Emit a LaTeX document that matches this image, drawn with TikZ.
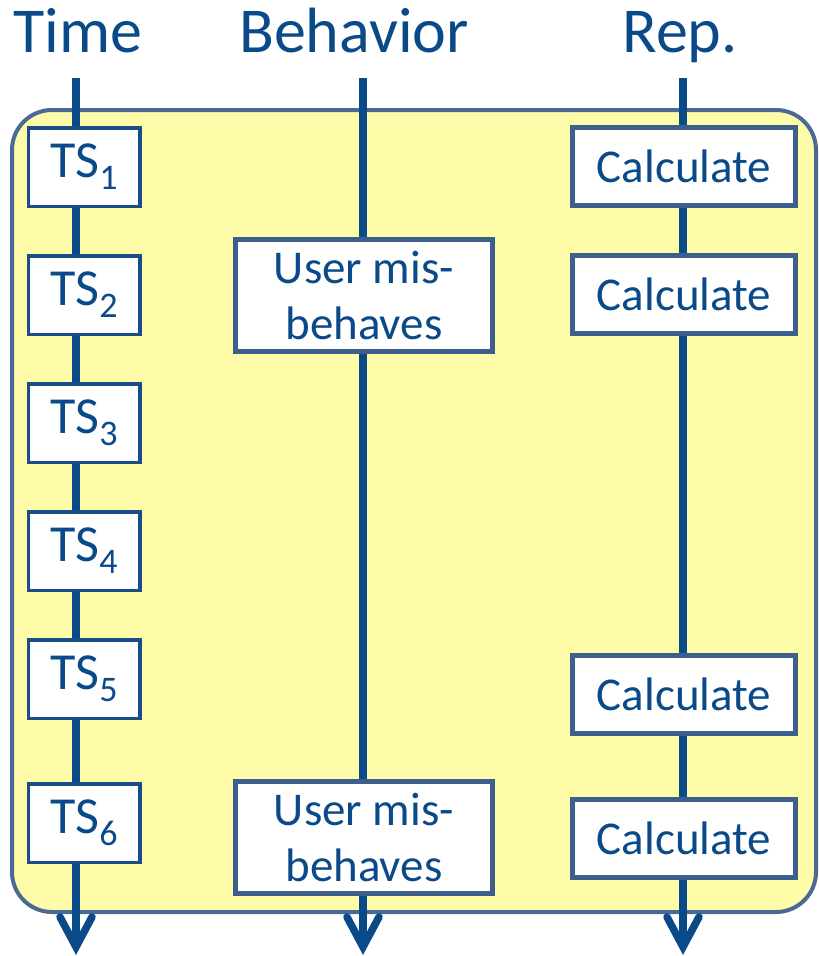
\documentclass[tikz,border=0pt]{standalone}
\usepackage{fontspec}
\setmainfont{Carlito}
\definecolor{ink}{HTML}{0B4A89}
\definecolor{tsedge}{HTML}{1B4C86}
\definecolor{boxedge}{HTML}{3E5F8C}
\definecolor{frameedge}{HTML}{4A6A94}
\definecolor{panel}{HTML}{FFFCA9}
\newcommand{\tslabel}[1]{TS\raisebox{-12pt}{\fontsize{36}{36}\selectfont #1}}
\begin{document}
\begin{tikzpicture}[x=1pt,y=-1pt,
  lane/.style={draw=ink, line width=7.5pt},
  barb/.style={draw=ink, line width=7.5pt, line cap=round, line join=miter},
  heading/.style={text=ink, font=\fontsize{64}{72}\selectfont, anchor=base, inner sep=0pt},
  tsbox/.style={draw=tsedge, line width=3.5pt, fill=white, minimum width=111.5pt,
    minimum height=78.5pt, inner sep=0pt, text=ink, font=\fontsize{52}{58}\selectfont},
  calcbox/.style={draw=boxedge, line width=5pt, fill=white, minimum width=223pt,
    minimum height=78pt, inner sep=0pt, text=ink, font=\fontsize{47}{56}\selectfont},
  behbox/.style={draw=boxedge, line width=5pt, fill=white, minimum width=256.5pt,
    minimum height=112pt, inner sep=0pt, align=center, text=ink,
    font=\fontsize{47}{56}\selectfont}]
\useasboundingbox (0,0) rectangle (819,956);

% background panel
\draw[draw=frameedge, line width=4pt, fill=panel, rounded corners=40pt]
  (12,110) rectangle (816,912);

% column headings
\node[heading] (hTime) at (78,52) {Time};
\node[heading] (hBeh) at (354,52) {Behavior};
\node[heading] (hRep) at (680,52) {Rep.};

% lane end points
\coordinate (ttop) at (76,78);
\coordinate (tend) at (76,947);
\coordinate (btop) at (363,78);
\coordinate (bend) at (363,947);
\coordinate (rtop) at (683,78);
\coordinate (rend) at (683,947);

% time slots
\node[tsbox] (ts1) at (84,167) {\tslabel{1}};
\node[tsbox] (ts2) at (84,295) {\tslabel{2}};
\node[tsbox] (ts3) at (84,423) {\tslabel{3}};
\node[tsbox] (ts4) at (84,551) {\tslabel{4}};
\node[tsbox] (ts5) at (84,679) {\tslabel{5}};
\node[tsbox] (ts6) at (84,823) {\tslabel{6}};

% behaviour events
\node[behbox] (beh1) at (364,295) {User mis-\\behaves};
\node[behbox] (beh2) at (364,837) {User mis-\\behaves};

% reputation calculations
\node[calcbox] (calc1) at (684,166.5) {Calculate};
\node[calcbox] (calc2) at (684,294.5) {Calculate};
\node[calcbox] (calc3) at (684,694.5) {Calculate};
\node[calcbox] (calc4) at (684,838) {Calculate};

% time lane
\draw[lane] (ttop) -- (ttop |- ts1.north);
\draw[lane] (ttop |- ts1.south) -- (ttop |- ts2.north);
\draw[lane] (ttop |- ts2.south) -- (ttop |- ts3.north);
\draw[lane] (ttop |- ts3.south) -- (ttop |- ts4.north);
\draw[lane] (ttop |- ts4.south) -- (ttop |- ts5.north);
\draw[lane] (ttop |- ts5.south) -- (ttop |- ts6.north);
\draw[lane] (ttop |- ts6.south) -- (tend);
\draw[barb] (tend) ++(-16,-30) -- (tend) -- ++(16,-30);

% behaviour lane
\draw[lane] (btop) -- (btop |- beh1.north);
\draw[lane] (btop |- beh1.south) -- (btop |- beh2.north);
\draw[lane] (btop |- beh2.south) -- (bend);
\draw[barb] (bend) ++(-16,-30) -- (bend) -- ++(16,-30);

% reputation lane
\draw[lane] (rtop) -- (rtop |- calc1.north);
\draw[lane] (rtop |- calc1.south) -- (rtop |- calc2.north);
\draw[lane] (rtop |- calc2.south) -- (rtop |- calc3.north);
\draw[lane] (rtop |- calc3.south) -- (rtop |- calc4.north);
\draw[lane] (rtop |- calc4.south) -- (rend);
\draw[barb] (rend) ++(-16,-30) -- (rend) -- ++(16,-30);
\end{tikzpicture}
\end{document}
